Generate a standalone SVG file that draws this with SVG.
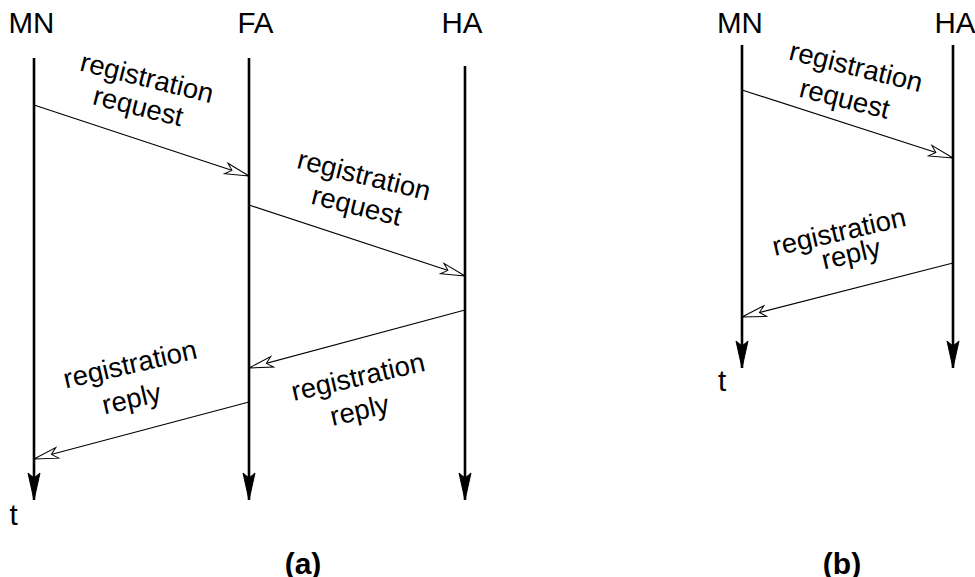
<svg xmlns="http://www.w3.org/2000/svg" width="975" height="577" viewBox="0 0 975 577">
<style>
text{font-family:"Liberation Sans",Arial,sans-serif;fill:#000}
.h{font-size:29.5px;text-anchor:middle}
.m{font-size:27.5px;text-anchor:middle}
.c{font-size:30px;font-weight:bold;text-anchor:middle}
.life{stroke:#000;stroke-width:2.6;fill:none}
.msg{stroke:#000;stroke-width:1.1;fill:none}
</style>
<defs>
<marker id="lh" markerUnits="userSpaceOnUse" orient="auto" markerWidth="40" markerHeight="20" viewBox="-30 -10 40 20" refX="0" refY="0" overflow="visible">
<path d="M0,0 L-27,-6 L-22,0 L-27,6 Z" fill="#000" stroke="#000" stroke-width="1"/>
</marker>
<marker id="oh" markerUnits="userSpaceOnUse" orient="auto" markerWidth="40" markerHeight="20" viewBox="-30 -10 40 20" refX="0" refY="0" overflow="visible">
<path d="M0,0 L-24,-5.5 L-18,0 L-24,5.5 Z" fill="#fff" stroke="#000" stroke-width="1"/>
</marker>
</defs>

<g id="MN-a"><text class="h" x="31.5" y="33">MN</text><line class="life" x1="34" y1="58" x2="34" y2="500" marker-end="url(#lh)"/><text class="h" x="13.5" y="525">t</text></g>
<g id="FA-a"><text class="h" x="255.5" y="33">FA</text><line class="life" x1="249" y1="58" x2="249" y2="500" marker-end="url(#lh)"/></g>
<g id="HA-a"><text class="h" x="462" y="33">HA</text><line class="life" x1="465" y1="66" x2="465" y2="500" marker-end="url(#lh)"/></g>
<g id="MN-b"><text class="h" x="740" y="33">MN</text><line class="life" x1="742" y1="45" x2="742" y2="368" marker-end="url(#lh)"/><text class="h" x="722" y="391">t</text></g>
<g id="HA-b"><text class="h" x="955" y="33">HA</text><line class="life" x1="953" y1="45" x2="953" y2="368" marker-end="url(#lh)"/></g>

<g id="connectors">
<line class="msg" x1="34" y1="105" x2="249" y2="176" marker-end="url(#oh)"/>
<line class="msg" x1="249" y1="205" x2="465" y2="276" marker-end="url(#oh)"/>
<line class="msg" x1="465" y1="310" x2="249" y2="368" marker-end="url(#oh)"/>
<line class="msg" x1="249" y1="402" x2="34" y2="459" marker-end="url(#oh)"/>
<line class="msg" x1="742" y1="90" x2="953" y2="158" marker-end="url(#oh)"/>
<line class="msg" x1="953" y1="263" x2="742" y2="317" marker-end="url(#oh)"/>
</g>

<g id="labels">
<text class="m" transform="translate(146.5,80) rotate(14)" y="7">registration</text>
<text class="m" transform="translate(137.5,109) rotate(14)" y="6.4">request</text>
<text class="m" transform="translate(363.5,177.5) rotate(14)" y="7">registration</text>
<text class="m" transform="translate(356,208.5) rotate(14)" y="6.4">request</text>
<text class="m" transform="translate(358.5,379) rotate(-13)" y="7">registration</text>
<text class="m" transform="translate(360,412.5) rotate(-13)" y="7">reply</text>
<text class="m" transform="translate(130.5,366.5) rotate(-13)" y="7">registration</text>
<text class="m" transform="translate(132,401) rotate(-13)" y="7">reply</text>
<text class="m" transform="translate(855.5,69) rotate(14)" y="7">registration</text>
<text class="m" transform="translate(844,101.5) rotate(14)" y="6.4">request</text>
<text class="m" transform="translate(839.5,234) rotate(-13)" y="7">registration</text>
<text class="m" transform="translate(851.5,256) rotate(-13)" y="7">reply</text>
</g>

<text class="c" x="303" y="574">(a)</text>
<text class="c" x="842" y="574">(b)</text>
</svg>
